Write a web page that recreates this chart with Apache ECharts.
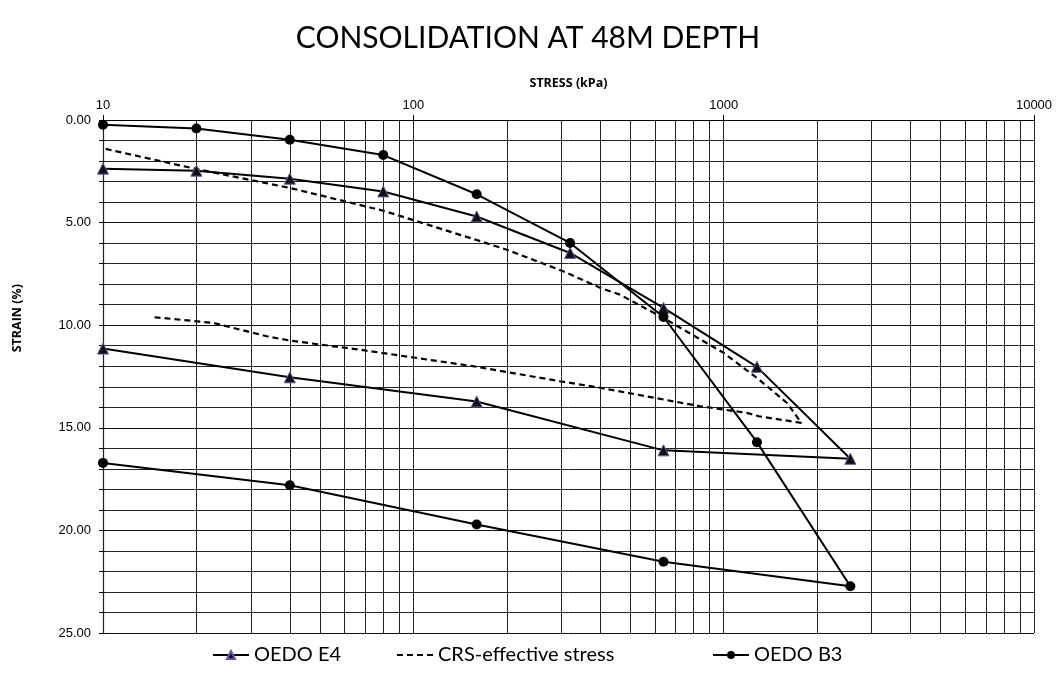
<!DOCTYPE html>
<html>
<head>
<meta charset="utf-8">
<script src="https://cdn.jsdelivr.net/npm/echarts@6/dist/echarts.min.js"></script>
<style>html,body{margin:0;padding:0;background:#fff}#c{width:1056px;height:674px}</style>
</head>
<body>
<div id="c"></div>
<script>
// ---- data ----
const e4Stress = [10, 20, 40, 80, 160, 320, 640, 1280, 2560, 640, 160, 40, 10];
const e4Strain = [2.37, 2.47, 2.86, 3.48, 4.70, 6.48, 9.16, 12.03, 16.51, 16.10, 13.72, 12.54, 11.14];
const b3Stress = [10, 20, 40, 80, 160, 320, 640, 1280, 2560, 640, 160, 40, 10];
const b3Strain = [0.23, 0.41, 0.96, 1.71, 3.62, 5.99, 9.60, 15.70, 22.72, 21.53, 19.71, 17.80, 16.71];
const crsStress = [10.2, 20, 40, 80, 160, 200, 304, 400, 463, 640, 1000, 1300, 1600, 1780, 1520, 1300, 1187, 840, 400, 297, 156, 67, 40, 33.7, 22.7, 14.4];
const crsStrain = [1.41, 2.39, 3.31, 4.42, 5.85, 6.32, 7.37, 8.18, 8.51, 9.65, 11.35, 12.65, 13.79, 14.76, 14.60, 14.44, 14.27, 13.95, 13.05, 12.73, 12.00, 11.19, 10.75, 10.54, 9.89, 9.60];
const decadeTicks = [10, 100, 1000, 10000];
const minorStress = [20,30,40,50,60,70,80,90,200,300,400,500,600,700,800,900,2000,3000,4000,5000,6000,7000,8000,9000];
const seriesNames = ['OEDO E4', 'CRS-effective stress', 'OEDO B3'];

const zip = (a, b) => a.map((v, i) => [v, b[i]]);
const chart = echarts.init(document.getElementById('c'), null, {renderer: 'canvas'});
const gridLines = decadeTicks.concat(minorStress).map(v => ({xAxis: v}));
const legendFont = {fontFamily: 'Lato, "Open Sans", sans-serif', fontSize: 20, color: '#000'};
const legendLefts = [207, 391, 707];

chart.setOption({
  animation: false,
  backgroundColor: '#fff',
  title: {
    text: 'CONSOLIDATION AT 48M DEPTH',
    left: 'center', top: 18,
    textStyle: {fontFamily: 'Lato, "Open Sans", sans-serif', fontWeight: 'normal', fontSize: 30, color: '#000'}
  },
  grid: {left: 103, right: 22, top: 120, bottom: 41},
  xAxis: {
    type: 'log', logBase: 10, min: 10, max: 10000, position: 'top',
    name: 'STRESS (kPa)', nameLocation: 'middle', nameGap: 30,
    nameTextStyle: {fontFamily: 'Open Sans, sans-serif', fontWeight: 'bold', fontSize: 12.5, color: '#000'},
    axisLine: {show: true, lineStyle: {color: '#000', width: 1}},
    axisTick: {show: true, length: 5, inside: false, lineStyle: {color: '#000'}},
    axisLabel: {fontFamily: 'Liberation Sans, Arial, sans-serif', fontSize: 13, color: '#000', margin: 8, formatter: v => String(Math.round(v))},
    splitLine: {show: false},
    minorTick: {show: false}
  },
  yAxis: {
    type: 'value', inverse: true, min: 0, max: 25, interval: 5,
    axisLine: {show: true, onZero: false, lineStyle: {color: '#000', width: 1.2}},
    axisTick: {show: true, length: 4, lineStyle: {color: '#000'}},
    minorTick: {show: true, splitNumber: 5, length: 4, lineStyle: {color: '#000'}},
    axisLabel: {fontFamily: 'Liberation Sans, Arial, sans-serif', fontSize: 13, color: '#000', margin: 12, formatter: v => v.toFixed(2)},
    splitLine: {show: true, lineStyle: {color: '#111', width: 1}},
    minorSplitLine: {show: true, lineStyle: {color: '#222', width: 1}}
  },
  graphic: [{
    type: 'text', left: 11, top: 284, rotation: Math.PI / 2,
    style: {text: 'STRAIN (%)', fontFamily: 'Open Sans, sans-serif', fontWeight: 'bold', fontSize: 12.5, fill: '#000'}
  }],
  legend: seriesNames.map((n, i) => ({
    bottom: 4, left: legendLefts[i], itemGap: 0, itemWidth: 36, itemHeight: 10,
    textStyle: legendFont,
    data: [i === 1 ? {name: n, itemStyle: {opacity: 0}} : {name: n}]
  })),
  series: [
    {
      name: 'grid', type: 'line', data: [], silent: true,
      markLine: {silent: true, symbol: 'none', label: {show: false},
        lineStyle: {type: 'solid', color: '#222', width: 1}, data: gridLines}
    },
    {
      name: seriesNames[0], type: 'line', data: zip(e4Stress, e4Strain),
      symbol: 'triangle', symbolSize: 11,
      lineStyle: {color: '#000', width: 2},
      itemStyle: {color: '#111', borderColor: '#6a53a0', borderWidth: 1},
      z: 5
    },
    {
      name: seriesNames[1], type: 'line', data: zip(crsStress, crsStrain),
      showSymbol: false, symbol: 'none',
      lineStyle: {color: '#000', width: 2.2, type: [6, 4]},
      itemStyle: {color: '#000'},
      z: 4
    },
    {
      name: seriesNames[2], type: 'line', data: zip(b3Stress, b3Strain),
      symbol: 'circle', symbolSize: 10,
      lineStyle: {color: '#000', width: 2},
      itemStyle: {color: '#000'},
      z: 6
    }
  ]
});
</script>
</body>
</html>
